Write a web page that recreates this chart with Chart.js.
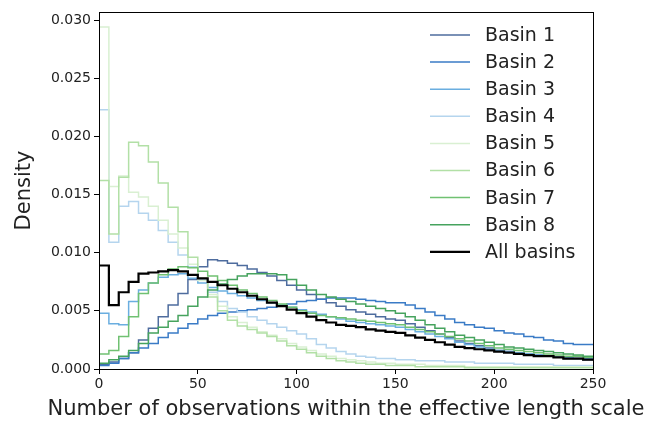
<!DOCTYPE html>
<html>
<head>
<meta charset="utf-8">
<script src="https://cdn.jsdelivr.net/npm/chart.js@4/dist/chart.umd.min.js"></script>
<style>
  html, body { margin: 0; background: #fff; }
</style>
</head>
<body>
<canvas id="chart" width="657" height="421"></canvas>
<script>
// bin edges (left edges of histogram bins, last entry closes the final bin)
const binEdges = [0, 5, 10, 15, 20, 25, 30, 35, 40, 45, 50, 55, 60, 65, 70, 75, 80, 85, 90, 95,
  100, 105, 110, 115, 120, 125, 130, 135, 140, 145, 150, 155, 160, 165, 170, 175, 180, 185, 190, 195,
  200, 205, 210, 215, 220, 225, 230, 235, 240, 245, 250];

const basin1 = [0.0004, 0.0006, 0.0009, 0.0014, 0.0025, 0.0035, 0.0045, 0.0055, 0.0065, 0.0077,
  0.0088, 0.0094, 0.0093, 0.0091, 0.0089, 0.0086, 0.0083, 0.0080, 0.0076, 0.0072,
  0.0068, 0.0064, 0.0060, 0.0057, 0.0054, 0.0051, 0.0049, 0.0047, 0.0045, 0.0043,
  0.0042, 0.0039, 0.0036, 0.0033, 0.0030, 0.0027, 0.0024, 0.0022, 0.0020, 0.0018,
  0.0016, 0.0015, 0.0014, 0.0013, 0.0012, 0.0011, 0.0010, 0.0009, 0.0009, 0.0008];
const basin2 = [0.0003, 0.0005, 0.0009, 0.0014, 0.0018, 0.0022, 0.0027, 0.0031, 0.0035, 0.0039,
  0.0043, 0.0046, 0.0048, 0.0049, 0.0050, 0.0051, 0.0052, 0.0053, 0.0054, 0.0056,
  0.0058, 0.0059, 0.0060, 0.0061, 0.0061, 0.0061, 0.0060, 0.0059, 0.0058, 0.0057,
  0.0057, 0.0055, 0.0052, 0.0049, 0.0046, 0.0043, 0.0040, 0.0038, 0.0036, 0.0035,
  0.0033, 0.0031, 0.0030, 0.0028, 0.0027, 0.0025, 0.0024, 0.0022, 0.0021, 0.0021];
const basin3 = [0.0048, 0.0039, 0.0038, 0.0058, 0.0068, 0.0074, 0.0079, 0.0081, 0.0082, 0.0078,
  0.0074, 0.0070, 0.0067, 0.0065, 0.0063, 0.0061, 0.0059, 0.0057, 0.0055, 0.0053,
  0.0051, 0.0049, 0.0047, 0.0045, 0.0043, 0.0041, 0.0040, 0.0039, 0.0038, 0.0037,
  0.0036, 0.0034, 0.0032, 0.0030, 0.0028, 0.0026, 0.0023, 0.0021, 0.0019, 0.0017,
  0.0016, 0.0015, 0.0014, 0.0013, 0.0012, 0.0011, 0.0010, 0.0010, 0.0009, 0.0009];
const basin4 = [0.0223, 0.0109, 0.0140, 0.0144, 0.0134, 0.0128, 0.0119, 0.0109, 0.0098, 0.0088,
  0.0077, 0.0066, 0.0058, 0.0052, 0.0049, 0.0045, 0.0042, 0.0039, 0.0036, 0.0033,
  0.0030, 0.0026, 0.0021, 0.0018, 0.0015, 0.0013, 0.0011, 0.0010, 0.0009, 0.0009,
  0.0008, 0.0008, 0.0007, 0.0007, 0.0007, 0.0006, 0.0006, 0.0006, 0.0005, 0.0005,
  0.0005, 0.0005, 0.0004, 0.0004, 0.0004, 0.0004, 0.0003, 0.0003, 0.0003, 0.0003];
const basin5 = [0.0294, 0.0157, 0.0166, 0.0152, 0.0148, 0.0140, 0.0128, 0.0116, 0.0104, 0.0090,
  0.0076, 0.0064, 0.0054, 0.0045, 0.0040, 0.0036, 0.0032, 0.0029, 0.0026, 0.0022,
  0.0019, 0.0016, 0.0013, 0.0011, 0.0009, 0.0008, 0.0007, 0.0006, 0.0005, 0.0005,
  0.0004, 0.0004, 0.0004, 0.0003, 0.0003, 0.0003, 0.0003, 0.0002, 0.0002, 0.0002,
  0.0002, 0.0002, 0.0002, 0.0002, 0.0002, 0.0002, 0.0002, 0.0002, 0.0002, 0.0002];
const basin6 = [0.0162, 0.0116, 0.0165, 0.0195, 0.0192, 0.0178, 0.0160, 0.0139, 0.0118, 0.0096,
  0.0078, 0.0062, 0.0050, 0.0042, 0.0037, 0.0034, 0.0031, 0.0028, 0.0024, 0.0020,
  0.0017, 0.0014, 0.0011, 0.0009, 0.0007, 0.0006, 0.0005, 0.0004, 0.0004, 0.0003,
  0.0003, 0.0003, 0.0002, 0.0002, 0.0002, 0.0002, 0.0002, 0.0001, 0.0001, 0.0001,
  0.0001, 0.0001, 0.0001, 0.0001, 0.0001, 0.0001, 0.0001, 0.0001, 0.0001, 0.0001];
const basin7 = [0.0013, 0.0016, 0.0028, 0.0045, 0.0065, 0.0074, 0.0081, 0.0086, 0.0088, 0.0087,
  0.0084, 0.0080, 0.0076, 0.0072, 0.0068, 0.0065, 0.0062, 0.0059, 0.0056, 0.0053,
  0.0050, 0.0048, 0.0046, 0.0045, 0.0044, 0.0043, 0.0042, 0.0041, 0.0040, 0.0039,
  0.0038, 0.0036, 0.0034, 0.0032, 0.0030, 0.0028, 0.0026, 0.0024, 0.0022, 0.0020,
  0.0018, 0.0017, 0.0016, 0.0015, 0.0014, 0.0013, 0.0012, 0.0011, 0.0011, 0.0010];
const basin8 = [0.0005, 0.0008, 0.0011, 0.0016, 0.0022, 0.0031, 0.0036, 0.0041, 0.0046, 0.0054,
  0.0062, 0.0068, 0.0073, 0.0077, 0.0080, 0.0082, 0.0082, 0.0082, 0.0081, 0.0077,
  0.0072, 0.0068, 0.0064, 0.0062, 0.0060, 0.0058, 0.0056, 0.0054, 0.0052, 0.0050,
  0.0048, 0.0045, 0.0042, 0.0038, 0.0035, 0.0032, 0.0029, 0.0027, 0.0025, 0.0023,
  0.0021, 0.0019, 0.0018, 0.0017, 0.0016, 0.0015, 0.0014, 0.0013, 0.0012, 0.0011];
const allBasins = [0.0089, 0.0055, 0.0066, 0.0075, 0.0082, 0.0083, 0.0084, 0.0085, 0.0084, 0.0081,
  0.0078, 0.0075, 0.0072, 0.0069, 0.0066, 0.0063, 0.0060, 0.0057, 0.0054, 0.0051,
  0.0048, 0.0045, 0.0042, 0.0040, 0.0038, 0.0037, 0.0036, 0.0034, 0.0033, 0.0032,
  0.0031, 0.0029, 0.0027, 0.0025, 0.0023, 0.0021, 0.0019, 0.0018, 0.0017, 0.0016,
  0.0015, 0.0014, 0.0013, 0.0012, 0.0011, 0.0011, 0.0010, 0.0009, 0.0009, 0.0008];

const seriesLabels = ["Basin 1", "Basin 2", "Basin 3", "Basin 4", "Basin 5", "Basin 6", "Basin 7", "Basin 8", "All basins"];
const seriesValues = [basin1, basin2, basin3, basin4, basin5, basin6, basin7, basin8, allBasins];
const seriesColors = ["#4e6c9e", "#3a7bc6", "#6aaee0", "#b5d5ee", "#d9f0d2", "#b2e0a6", "#70c172", "#46a35e", "#000000"];

const xTicks = [0, 50, 100, 150, 200, 250];
const yTicks = [0, 0.005, 0.01, 0.015, 0.02, 0.025, 0.03];
const xTitle = "Number of observations within the effective length scale";

const FONT = "'DejaVu Sans', sans-serif";

// histogram outline: value held from each left edge to the next edge
function toSteps(values) {
  const pts = values.map((v, i) => ({ x: binEdges[i], y: v }));
  pts.push({ x: binEdges[values.length], y: values[values.length - 1] });
  return pts;
}

const datasets = seriesValues.map((vals, i) => {
  const isAll = i === seriesValues.length - 1;
  return {
    label: seriesLabels[i],
    data: toSteps(vals),
    borderColor: seriesColors[i],
    borderWidth: isAll ? 2.2 : 1.5,
    stepped: "before",
    pointRadius: 0,
    fill: false,
    order: isAll ? 0 : seriesValues.length - 1 - i,
  };
});

// matplotlib-like frame around the axes
const framePlugin = {
  id: "frame",
  afterDatasetsDraw(chart) {
    const { ctx, chartArea: a } = chart;
    ctx.save();
    ctx.strokeStyle = "#000";
    ctx.lineWidth = 1;
    ctx.strokeRect(a.left + 0.5, a.top + 0.5, a.right - a.left, a.bottom - a.top);
    ctx.restore();
  },
};

// legend inside the plot (upper right) + x title wider than the plot area
const extrasPlugin = {
  id: "extras",
  afterDraw(chart) {
    const { ctx, chartArea: a } = chart;
    ctx.save();
    ctx.font = "19px " + FONT;
    ctx.textBaseline = "middle";
    chart.data.datasets.forEach((ds, i) => {
      const y = 35 + i * 27.1;
      ctx.strokeStyle = ds.borderColor;
      ctx.lineWidth = ds.borderWidth;
      ctx.beginPath();
      ctx.moveTo(430, y);
      ctx.lineTo(470, y);
      ctx.stroke();
      ctx.fillStyle = "#222";
      ctx.fillText(ds.label, 485, y + 1);
    });
    ctx.font = "21px " + FONT;
    ctx.textAlign = "center";
    ctx.fillText(xTitle, (a.left + a.right) / 2, 410);
    ctx.restore();
  },
};

new Chart(document.getElementById("chart"), {
  type: "line",
  data: { datasets },
  plugins: [framePlugin, extrasPlugin],
  options: {
    responsive: false,
    animation: false,
    layout: { padding: { top: 12, right: 64, left: 0, bottom: 0 } },
    plugins: { legend: { display: false }, tooltip: { enabled: false } },
    scales: {
      x: {
        type: "linear",
        min: 0,
        max: 250,
        afterBuildTicks: (s) => { s.ticks = xTicks.map((v) => ({ value: v })); },
        afterFit: (s) => { s.height = 52; },
        ticks: { color: "#222", font: { family: FONT, size: 14 }, padding: 2, maxRotation: 0 },
        grid: { drawOnChartArea: false, drawTicks: true, tickLength: 5, color: "#000" },
        border: { display: true, color: "#000" },
      },
      y: {
        min: 0,
        max: 0.0307,
        afterBuildTicks: (s) => { s.ticks = yTicks.map((v) => ({ value: v })); },
        afterFit: (s) => { s.width = 99; },
        ticks: {
          color: "#222",
          font: { family: FONT, size: 14 },
          padding: 3,
          callback: (v) => v.toFixed(3),
        },
        grid: { drawOnChartArea: false, drawTicks: true, tickLength: 5, color: "#000" },
        border: { display: true, color: "#000" },
        title: {
          display: true,
          text: "Density",
          color: "#222",
          font: { family: FONT, size: 21 },
          padding: { top: 12, bottom: 0 },
        },
      },
    },
  },
});
</script>
</body>
</html>
